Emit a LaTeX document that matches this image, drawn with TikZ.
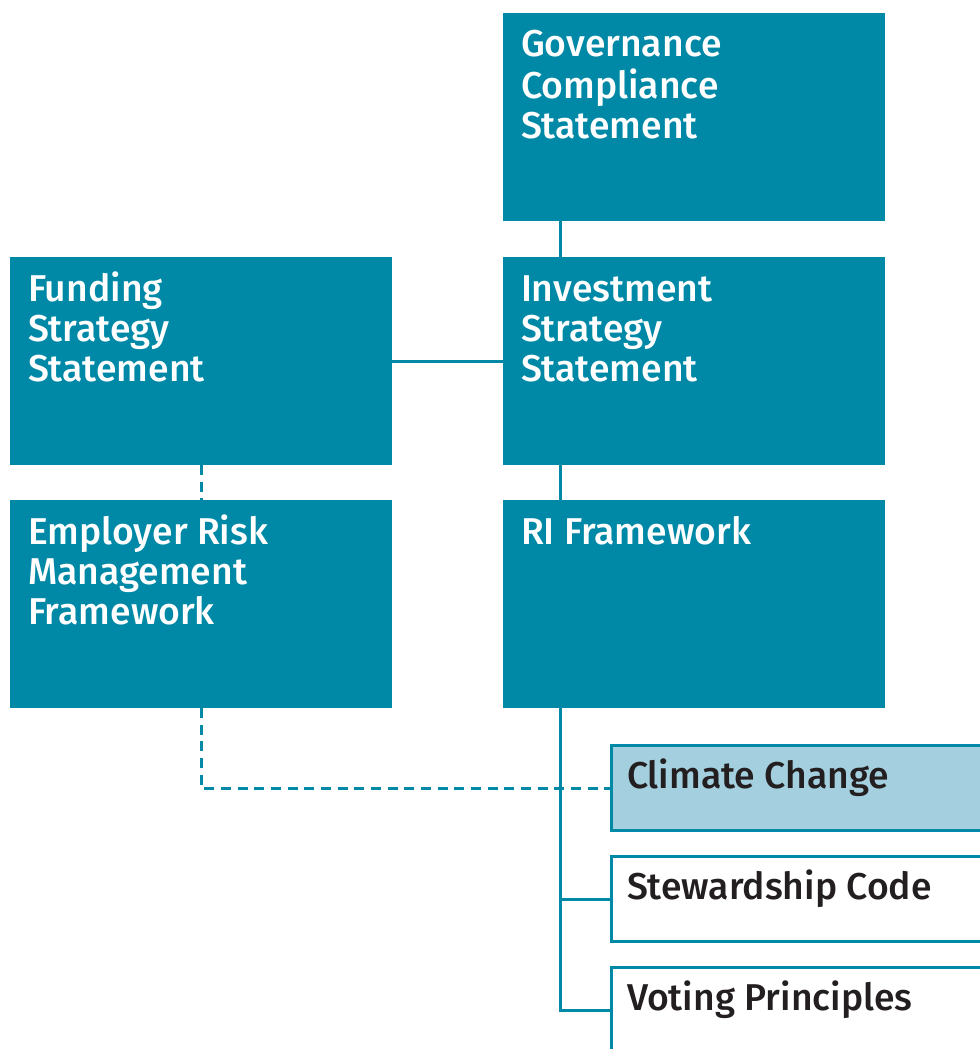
\documentclass[tikz,border=0pt]{standalone}
\usepackage{fontspec}
\setmainfont{Fira Sans}[UprightFont={* Medium}]
\usetikzlibrary{calc}
\definecolor{teal}{RGB}{0,137,166}
\definecolor{lightteal}{RGB}{163,207,222}
\definecolor{ink}{RGB}{35,31,32}
\tikzset{
  x=0.75pt, y=-0.75pt,
  tealbox/.style={fill=teal, draw=none, anchor=north west, inner sep=0pt, outer sep=0pt,
    minimum width=286.5pt, minimum height=156pt},
  subbox/.style={draw=teal, line width=2.25pt, anchor=north west, inner sep=0pt, outer sep=0pt,
    minimum width=300pt, minimum height=63.75pt},
  lab/.style={anchor=base west, inner sep=0pt, outer sep=0pt,
    font=\fontsize{28}{30}\selectfont},
  conn/.style={draw=teal, line width=2.25pt},
  dconn/.style={draw=teal, line width=2.25pt, dash pattern=on 7.5pt off 5pt},
}
\newcommand{\lines}[1]{\begin{tabular}[t]{@{}l@{}}#1\end{tabular}}
\begin{document}
\begin{tikzpicture}
\useasboundingbox (0,0) rectangle (980,1049);
\clip (0,0) rectangle (980,1049);
\fill[white] (0,0) rectangle (980,1049);
\coordinate (spine) at (560,0);

% teal boxes
\node[tealbox] (gov) at (503,13) {};
\node[tealbox] (fund) at (10,257) {};
\node[tealbox] (inv) at (503,257) {};
\node[tealbox] (emp) at (10,500) {};
\node[tealbox] (ri) at (503,500) {};

% sub boxes
\node[subbox, fill=lightteal] (clim) at (611.5,745.5) {};
\node[subbox, fill=white] (stew) at (611.5,856.5) {};
\node[subbox, fill=white] (vot) at (611.5,967.5) {};

% connectors
\draw[conn] (spine |- gov.south) -- (spine |- inv.north);
\draw[conn] (fund.east) -- (inv.west);
\draw[conn] (spine |- inv.south) -- (spine |- ri.north);
\draw[dconn] (fund.south) -- (emp.north);
\draw[dconn] (emp.south) -- (emp.south |- clim.west) -- (clim.west);
\draw[conn] (spine |- ri.south) -- (spine |- vot.west) -- (vot.west);
\draw[conn] (spine |- stew.west) -- (stew.west);

% labels
\node[lab, text=white] (govt) at ($(gov.north west)+(18,44)$) {\lines{Governance\\Compliance\\Statement}};
\node[lab, text=white] (fundt) at ($(fund.north west)+(18,44)$) {\lines{Funding\\Strategy\\Statement}};
\node[lab, text=white] (invt) at ($(inv.north west)+(18,44)$) {\lines{Investment\\Strategy\\Statement}};
\node[lab, text=white] (empt) at ($(emp.north west)+(18,44)$) {\lines{Employer Risk\\Management\\Framework}};
\node[lab, text=white] (rit) at ($(ri.north west)+(18,44)$) {\lines{RI Framework}};
\node[lab, text=ink] (climt) at ($(clim.north west)+(15.5,42.5)$) {\lines{Climate Change}};
\node[lab, text=ink] (stewt) at ($(stew.north west)+(15.5,42.5)$) {\lines{Stewardship Code}};
\node[lab, text=ink] (vott) at ($(vot.north west)+(15.5,42.5)$) {\lines{Voting Principles}};
\end{tikzpicture}
\end{document}
